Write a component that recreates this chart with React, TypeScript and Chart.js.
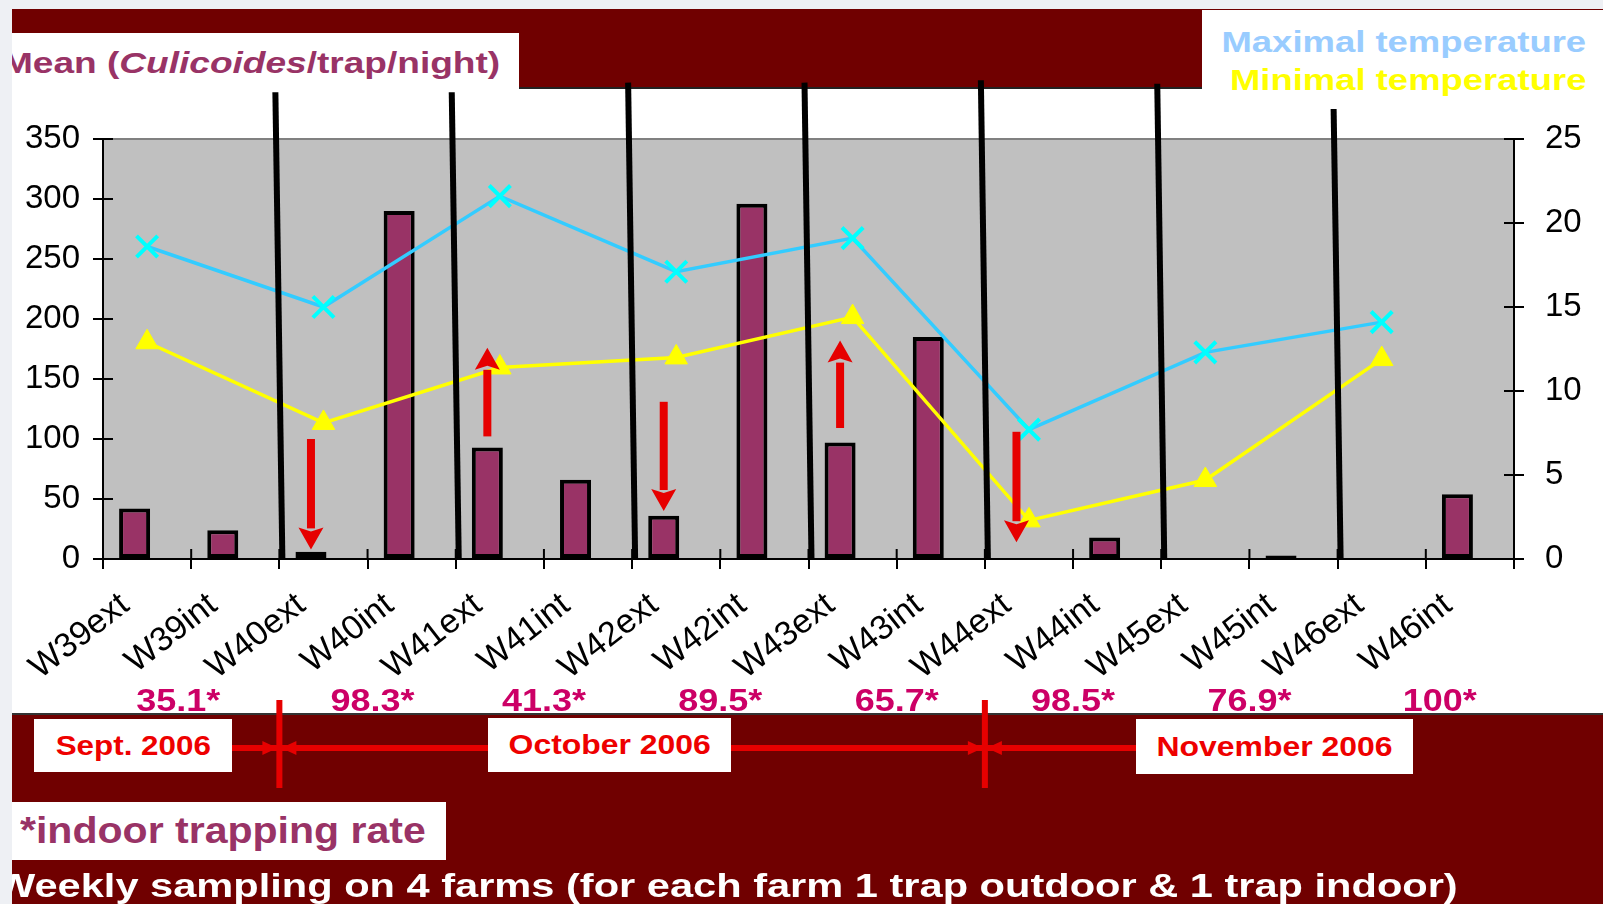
import React, { useEffect, useRef } from "react";
import { Chart, registerables } from "chart.js";

Chart.register(...registerables);

// ---------- data ----------
const categories = [
  "W39ext", "W39int", "W40ext", "W40int", "W41ext", "W41int", "W42ext", "W42int",
  "W43ext", "W43int", "W44ext", "W44int", "W45ext", "W45int", "W46ext", "W46int",
];
const culicoidesMean = [42, 24, 6, 290, 93, 66, 36, 296, 97, 185, 0, 18, 0, 3, 0, 54];
const maxTemperature = [18.6, null, 15.0, null, 21.6, null, 17.1, null, 19.1, null, 7.7, null, 12.3, null, 14.1, null];
const minTemperature = [12.9, null, 8.1, null, 11.4, null, 12.0, null, 14.4, null, 2.3, null, 4.7, null, 11.9, null];
const indoorRates = ["35.1*", "98.3*", "41.3*", "89.5*", "65.7*", "98.5*", "76.9*", "100*"];
const leftAxisRange = [0, 350, 50];
const rightAxisRange = [0, 25, 5];
// trend arrows (left-axis units)
const arrowCategory = [2, 4, 6, 8, 10];
const arrowFrom = [100, 103, 131, 110, 106];
const arrowTo = [8, 176, 40, 182, 14];
// week separators: drawn before these category indexes, top value in left-axis units
const separatorBefore = [2, 4, 6, 8, 10, 12, 14];
const separatorTop = [389, 389, 397, 397, 399, 396, 375];
// month boundaries (before these category indexes)
const monthBoundaryBefore = [2, 10];
const monthLabels = ["Sept. 2006", "October 2006", "November 2006"];

// layout nudges for the indoor-rate labels (px)
const RATE_NUDGE = [-13, 5, 0, 0, 0, 0, 0, 14];

const FONT = '"Liberation Sans", Arial, Helvetica, sans-serif';

const decorPlugin = {
  id: "decor",
  beforeDraw(chart: any) {
    const { ctx, chartArea: a } = chart;
    ctx.save();
    ctx.fillStyle = "#C0C0C0";
    ctx.fillRect(a.left, a.top, a.right - a.left, a.bottom - a.top);
    ctx.strokeStyle = "#808080";
    ctx.lineWidth = 2;
    ctx.beginPath();
    ctx.moveTo(a.left, a.top);
    ctx.lineTo(a.right, a.top);
    ctx.stroke();
    ctx.restore();
  },
  afterDatasetsDraw(chart: any) {
    const { ctx, chartArea: a } = chart;
    const xs = chart.scales.x;
    const ys = chart.scales.y;
    const y2 = chart.scales.y2;
    const step = xs.getPixelForValue(1) - xs.getPixelForValue(0);
    ctx.save();
    // inner tick marks
    ctx.strokeStyle = "#000";
    ctx.lineWidth = 2;
    ctx.beginPath();
    ys.ticks.forEach((t: any) => {
      const y = ys.getPixelForValue(t.value);
      ctx.moveTo(a.left, y);
      ctx.lineTo(a.left + 10, y);
    });
    y2.ticks.forEach((t: any) => {
      const y = y2.getPixelForValue(t.value);
      ctx.moveTo(a.right - 10, y);
      ctx.lineTo(a.right, y);
    });
    for (let i = 0; i <= categories.length; i++) {
      const x = xs.getPixelForValue(0) - step / 2 + i * step;
      ctx.moveTo(x, a.bottom);
      ctx.lineTo(x, a.bottom - 10);
    }
    ctx.stroke();

    // week separators
    ctx.strokeStyle = "#000";
    ctx.lineWidth = 6;
    separatorBefore.forEach((k, i) => {
      const bx = xs.getPixelForValue(k) - step / 2;
      const top = ys.getPixelForValue(separatorTop[i]);
      ctx.beginPath();
      ctx.moveTo(bx - 4, top);
      ctx.lineTo(bx + 3, a.bottom);
      ctx.stroke();
    });

    // red arrows
    const barMeta = chart.getDatasetMeta(0);
    ctx.fillStyle = "#E60000";
    arrowCategory.forEach((c, i) => {
      const x = barMeta.data[c].x;
      const yFrom = ys.getPixelForValue(arrowFrom[i]);
      const yTo = ys.getPixelForValue(arrowTo[i]);
      const dir = Math.sign(yTo - yFrom);
      const headL = 22;
      const headW = 25;
      const shaft = 8;
      const yb = yTo - dir * headL;
      ctx.fillRect(x - shaft / 2, Math.min(yFrom, yb), shaft, Math.abs(yb - yFrom) + 1);
      ctx.beginPath();
      ctx.moveTo(x - headW / 2, yb);
      ctx.lineTo(x, yb + dir * 4);
      ctx.lineTo(x + headW / 2, yb);
      ctx.lineTo(x, yTo);
      ctx.closePath();
      ctx.fill();
    });
    ctx.restore();
  },
  afterDraw(chart: any) {
    const { ctx } = chart;
    const xs = chart.scales.x;
    const step = xs.getPixelForValue(1) - xs.getPixelForValue(0);
    ctx.save();
    // indoor trapping rates
    ctx.fillStyle = "#CC0066";
    ctx.font = `bold 31px ${FONT}`;
    ctx.textAlign = "center";
    ctx.textBaseline = "alphabetic";
    indoorRates.forEach((txt, w) => {
      const x = (xs.getPixelForValue(2 * w) + xs.getPixelForValue(2 * w + 1)) / 2 + RATE_NUDGE[w];
      ctx.save();
      ctx.translate(x, 711);
      ctx.scale(1.16, 1);
      ctx.fillText(txt, 0, 0);
      ctx.restore();
    });
    // month timeline
    ctx.fillStyle = "#E60000";
    ctx.fillRect(220, 745, 930, 6);
    monthBoundaryBefore.forEach((k) => {
      const mx = xs.getPixelForValue(k) - step / 2;
      ctx.fillRect(mx - 3, 700, 6, 88);
      ctx.beginPath();
      ctx.moveTo(mx - 2, 748);
      ctx.lineTo(mx - 17, 741);
      ctx.lineTo(mx - 17, 755);
      ctx.closePath();
      ctx.fill();
      ctx.beginPath();
      ctx.moveTo(mx + 2, 748);
      ctx.lineTo(mx + 17, 741);
      ctx.lineTo(mx + 17, 755);
      ctx.closePath();
      ctx.fill();
    });
    ctx.restore();
  },
};

const tickFont = { family: FONT, size: 33 };

export default function App() {
  const ref = useRef<HTMLCanvasElement>(null);

  useEffect(() => {
    if (!ref.current) return;
    const chart = new Chart(ref.current, {
      type: "bar",
      data: {
        labels: categories,
        datasets: [
          {
            type: "bar",
            label: "Mean (Culicoides/trap/night)",
            data: culicoidesMean,
            yAxisID: "y",
            backgroundColor: "#993366",
            borderColor: "#000000",
            borderWidth: 4,
            borderSkipped: false,
            categoryPercentage: 0.567,
            barPercentage: 1.24,
            order: 2,
          } as any,
          {
            type: "bar",
            label: "spacer",
            data: categories.map(() => null),
            yAxisID: "y",
            categoryPercentage: 0.567,
            barPercentage: 1.24,
            order: 2,
          } as any,
          {
            type: "line",
            label: "Maximal temperature",
            data: maxTemperature,
            yAxisID: "y2",
            borderColor: "#33CCFF",
            borderWidth: 3.5,
            spanGaps: true,
            tension: 0,
            pointStyle: "crossRot",
            pointRadius: 15,
            pointBorderColor: "#00FFFF",
            pointBorderWidth: 4,
            pointBackgroundColor: "#00FFFF",
            order: 0,
          } as any,
          {
            type: "line",
            label: "Minimal temperature",
            data: minTemperature,
            yAxisID: "y2",
            borderColor: "#FFFF00",
            borderWidth: 3.5,
            spanGaps: true,
            tension: 0,
            pointStyle: "triangle",
            pointRadius: 13,
            pointBorderColor: "#FFFF00",
            pointBackgroundColor: "#FFFF00",
            pointBorderWidth: 1,
            order: 1,
          } as any,
        ],
      },
      options: {
        responsive: false,
        animation: false,
        layout: { padding: { left: 0, right: 19, top: 139, bottom: 215 } },
        plugins: { legend: { display: false }, tooltip: { enabled: false } },
        scales: {
          x: {
            type: "category",
            offset: true,
            grid: { offset: true, drawOnChartArea: false, tickLength: 10, color: "#000", lineWidth: 2 },
            border: { color: "#000", width: 2, z: 1 },
            ticks: {
              color: "#000",
              font: { family: FONT, size: 34 },
              minRotation: 38,
              maxRotation: 38,
              autoSkip: false,
              padding: 16,
              labelOffset: -22,
            },
            afterFit: (s: any) => { s.height = 130; },
          },
          y: {
            position: "left",
            min: leftAxisRange[0],
            max: leftAxisRange[1],
            ticks: { stepSize: leftAxisRange[2], color: "#000", font: tickFont, padding: 13 },
            grid: { drawOnChartArea: false, tickLength: 10, color: "#000", lineWidth: 2 },
            border: { color: "#000", width: 2, z: 1 },
            afterFit: (s: any) => { s.width = 103; },
          },
          y2: {
            position: "right",
            min: rightAxisRange[0],
            max: rightAxisRange[1],
            ticks: { stepSize: rightAxisRange[2], color: "#000", font: tickFont, padding: 21 },
            grid: { drawOnChartArea: false, tickLength: 10, color: "#000", lineWidth: 2 },
            border: { color: "#000", width: 2, z: 1 },
            afterFit: (s: any) => { s.width = 70; },
          },
        },
      } as any,
      plugins: [decorPlugin],
    });
    return () => chart.destroy();
  }, []);

  const line = (size: number) => ({
    position: "absolute" as const,
    whiteSpace: "nowrap" as const,
    fontFamily: FONT,
    fontWeight: "bold" as const,
    fontSize: size,
    lineHeight: `${size}px`,
  });

  const box = (left: number, top: number, width: number, height: number) => ({
    position: "absolute" as const,
    left,
    top,
    width,
    height,
    background: "#FFFFFF",
    display: "flex",
    alignItems: "center",
    justifyContent: "center",
  });

  return (
    <div
      style={{
        position: "absolute",
        left: 0,
        top: 0,
        width: 1603,
        height: 904,
        overflow: "hidden",
        background: "#EEF0F4",
        fontFamily: FONT,
      }}
    >
      {/* slide background */}
      <div style={{ position: "absolute", left: 12, top: 9, right: 0, bottom: 0, background: "#700000", overflow: "hidden" }}>
        <div style={{ position: "absolute", left: 0, right: 0, top: 79, height: 625, background: "#FFFFFF", borderBottom: "2px solid #333" }} />
        <div style={{ position: "absolute", left: 507, width: 683, top: 78, height: 2, background: "#222" }} />
        <div style={{ position: "absolute", left: 0, top: 24, width: 507, height: 56, background: "#FFFFFF" }} />
        <div style={{ position: "absolute", left: 1190, top: 1, right: 0, height: 79, background: "#FFFFFF" }} />
        <div style={{ ...line(30), left: -10, top: 39, color: "#993366", transform: "scaleX(1.235)", transformOrigin: "left center" }}>
          Mean (<i>Culicoides</i>/trap/night)
        </div>
        <div style={{ ...line(30), right: 17, top: 18, color: "#99CCFF", transform: "scaleX(1.215)", transformOrigin: "right center" }}>
          Maximal temperature
        </div>
        <div style={{ ...line(30), right: 17, top: 56, color: "#FFFF00", transform: "scaleX(1.215)", transformOrigin: "right center" }}>
          Minimal temperature
        </div>
      </div>

      <canvas
        ref={ref}
        width={1603}
        height={904}
        style={{ position: "absolute", left: 0, top: 0, width: 1603, height: 904 }}
      />

      {/* overlays above the chart */}
      <div style={{ position: "absolute", left: 12, top: 9, right: 0, bottom: 0, overflow: "hidden", pointerEvents: "none" }}>
        <div style={box(22, 710, 198, 53)}>
          <span style={{ ...line(28), position: "static", color: "#EE0000", display: "inline-block", transform: "scaleX(1.12)" }}>{monthLabels[0]}</span>
        </div>
        <div style={box(476, 709, 243, 54)}>
          <span style={{ ...line(28), position: "static", color: "#EE0000", display: "inline-block", transform: "scaleX(1.14)" }}>{monthLabels[1]}</span>
        </div>
        <div style={box(1124, 710, 277, 55)}>
          <span style={{ ...line(28), position: "static", color: "#EE0000", display: "inline-block", transform: "scaleX(1.14)" }}>{monthLabels[2]}</span>
        </div>
        <div style={{ position: "absolute", left: 0, top: 793, width: 434, height: 58, background: "#FFFFFF" }}>
          <div style={{ ...line(36), left: 8, top: 11, color: "#993366", transform: "scaleX(1.14)", transformOrigin: "left center" }}>
            *indoor trapping rate
          </div>
        </div>
        <div style={{ ...line(33), left: -16, top: 860, color: "#FFFFFF", transform: "scaleX(1.26)", transformOrigin: "left center" }}>
          Weekly sampling on 4 farms (for each farm 1 trap outdoor &amp; 1 trap indoor)
        </div>
      </div>
    </div>
  );
}
